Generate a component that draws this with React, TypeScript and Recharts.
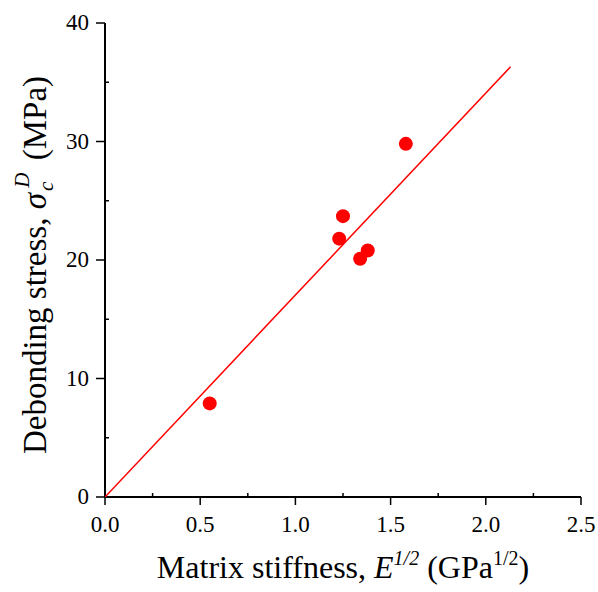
import React from 'react';
import { ComposedChart, Scatter, XAxis, YAxis, Label } from 'recharts';

const stiffness = [0.55, 1.23, 1.25, 1.34, 1.38, 1.58];
const stress = [7.9, 21.8, 23.7, 20.1, 20.8, 29.8];
const fitX = [0, 2.13];
const fitY = [0, 36.3];
const xTicks = [0, 0.5, 1, 1.5, 2, 2.5];
const xMinor = [0.25, 0.75, 1.25, 1.75, 2.25];
const yTicks = [0, 10, 20, 30, 40];
const yMinor = [5, 15, 25, 35];

const points = stiffness.map((x, i) => ({ x, y: stress[i] }));
const fit = fitX.map((x, i) => ({ x, y: fitY[i] }));
const allX = [...xTicks, ...xMinor].sort((a, b) => a - b);
const allY = [...yTicks, ...yMinor].sort((a, b) => a - b);

const FONT = '"Liberation Serif", "Times New Roman", serif';
const RED = '#ff0000';

const BottomTick = (props: any) => {
  const { x, y, payload } = props;
  const major = xTicks.includes(payload.value);
  return (
    <g>
      <line x1={x} x2={x} y1={y} y2={major ? y + 8 : y - 4} stroke="#000" strokeWidth={1.5} />
      {major && (
        <text x={x} y={y + 35} textAnchor="middle" fontFamily={FONT} fontSize={23} fill="#000">
          {payload.value.toFixed(1)}
        </text>
      )}
    </g>
  );
};

const LeftTick = (props: any) => {
  const { x, y, payload } = props;
  const major = yTicks.includes(payload.value);
  return (
    <g>
      <line x1={x} x2={major ? x - 9 : x + 4} y1={y} y2={y} stroke="#000" strokeWidth={1.5} />
      {major && (
        <text x={x - 16} y={y + 7} textAnchor="end" fontFamily={FONT} fontSize={23} fill="#000">
          {payload.value}
        </text>
      )}
    </g>
  );
};

const TopTick = (props: any) => {
  const { x, y } = props;
  return <line x1={x} x2={x} y1={y} y2={y + 4} stroke="#000" strokeWidth={1.2} />;
};

const RightTick = (props: any) => {
  const { x, y } = props;
  return <line x1={x} x2={x - 4} y1={y} y2={y} stroke="#000" strokeWidth={1.2} />;
};

const XTitle = (props: any) => {
  const { x, y, width } = props.viewBox;
  return (
    <text x={x + width / 2} y={y + 81} textAnchor="middle" fontFamily={FONT} fontSize={32} fill="#000">
      Matrix stiffness, <tspan fontStyle="italic">E</tspan>
      <tspan fontStyle="italic" fontSize={20} dy={-13}>1/2</tspan>
      <tspan dy={13}> (GPa</tspan>
      <tspan fontSize={20} dy={-13}>1/2</tspan>
      <tspan dy={13}>)</tspan>
    </text>
  );
};

const YTitle = (props: any) => {
  const cx = 46;
  const cy = 265;
  return (
    <text x={cx} y={cy} transform={`rotate(-90, ${cx}, ${cy})`} textAnchor="middle" fontFamily={FONT} fontSize={33} fill="#000">
      Debonding stress, <tspan fontStyle="italic">σ</tspan>
      <tspan fontStyle="italic" fontSize={21} dy={7} dx={2}>c</tspan>
      <tspan fontStyle="italic" fontSize={21} dx={-6} dy={-24}>D</tspan>
      <tspan dy={17} dx={4}> (MPa)</tspan>
    </text>
  );
};

const Dot = (p: any) => <circle cx={p.cx} cy={p.cy} r={7} fill={RED} />;

export default function App() {
  return (
    <div style={{ position: 'absolute', left: 0, top: 0, background: '#fff' }}>
      <ComposedChart width={598} height={592} margin={{ top: 23, right: 17, left: 0, bottom: 0 }}>
        <XAxis xAxisId="b" type="number" dataKey="x" domain={[0, 2.5]} ticks={allX} interval={0}
          height={95} tickSize={0} tickMargin={0} tickLine={false}
          axisLine={{ stroke: '#000', strokeWidth: 2 }} tick={<BottomTick />} allowDataOverflow>
          <Label content={<XTitle />} />
        </XAxis>
        <XAxis xAxisId="t" orientation="top" type="number" dataKey="x" domain={[0, 2.5]} ticks={allX} interval={0}
          height={0} tickSize={0} tickMargin={0} tickLine={false}
          axisLine={{ stroke: '#000', strokeWidth: 2 }} tick={<TopTick />} allowDataOverflow />
        <YAxis yAxisId="l" type="number" dataKey="y" domain={[0, 40]} ticks={allY} interval={0}
          width={105} tickSize={0} tickMargin={0} tickLine={false}
          axisLine={{ stroke: '#000', strokeWidth: 2 }} tick={<LeftTick />} allowDataOverflow>
          <Label content={<YTitle />} />
        </YAxis>
        <YAxis yAxisId="r" orientation="right" type="number" dataKey="y" domain={[0, 40]} ticks={allY} interval={0}
          width={0} tickSize={0} tickMargin={0} tickLine={false}
          axisLine={{ stroke: '#000', strokeWidth: 2 }} tick={<RightTick />} allowDataOverflow />
        <Scatter xAxisId="b" yAxisId="l" data={fit} line={{ stroke: RED, strokeWidth: 1.5 }}
          shape={() => <g />} isAnimationActive={false} />
        <Scatter xAxisId="b" yAxisId="l" data={points} shape={Dot} isAnimationActive={false} />
      </ComposedChart>
    </div>
  );
}
